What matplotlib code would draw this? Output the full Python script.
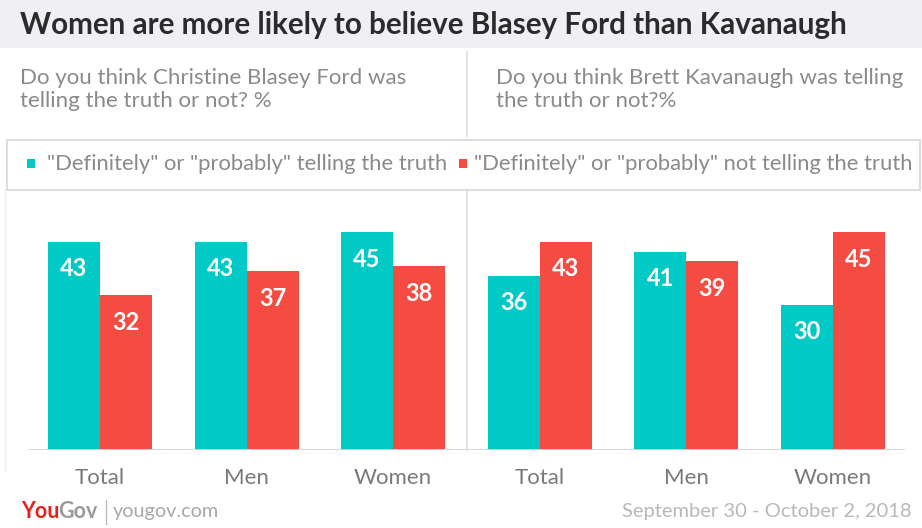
import matplotlib.pyplot as plt
from matplotlib.patches import Rectangle
from matplotlib.lines import Line2D

plt.rcParams['font.family'] = ['Lato', 'DejaVu Sans']

groups = ['Total', 'Men', 'Women', 'Total', 'Men', 'Women']
telling_truth = [43, 43, 45, 36, 41, 30]
not_truth = [32, 37, 38, 43, 39, 45]

title = 'Women are more likely to believe Blasey Ford than Kavanaugh'
question_left = ['Do you think Christine Blasey Ford was', 'telling the truth or not? %']
question_right = ['Do you think Brett Kavanaugh was telling', 'the truth or not?%']
legend_labels = ['"Definitely" or "probably" telling the truth',
                 '"Definitely" or "probably" not telling the truth']
date_text = 'September 30 - October 2, 2018'

teal = '#00C9C6'
red = '#F44B42'
W, H = 922, 528

fig = plt.figure(figsize=(W / 100, H / 100), dpi=100)


def px(x, y):
    # pixel position (from top-left) -> figure fraction
    return x / W, 1 - y / H


def vline(x, y0, y1, color='#dddddd', lw=1.2):
    fig.lines.append(Line2D([x / W] * 2, [1 - y0 / H, 1 - y1 / H],
                            transform=fig.transFigure, color=color, lw=lw))


# title band
fig.patches.append(Rectangle(px(0, 48), 1, 48 / H, transform=fig.transFigure,
                             facecolor='#EFEFF4', edgecolor='none', zorder=0))
fig.text(*px(20, 25), title, fontsize=21.3, fontweight='bold', color='#2b2b2b',
         va='center', ha='left')

# question headers
for i, line in enumerate(question_left):
    fig.text(*px(20, 78 + 23 * i), line, fontsize=16, color='#8a8a8a',
             va='center', ha='left')
for i, line in enumerate(question_right):
    fig.text(*px(496, 78 + 23 * i), line, fontsize=16, color='#8a8a8a',
             va='center', ha='left')

# dividers
vline(467, 52, 136)
vline(467, 190, 450)
vline(5, 190, 470, color='#eeeeee', lw=1)

# legend box
fig.patches.append(Rectangle(px(7, 190), 913 / W, 50 / H, transform=fig.transFigure,
                             facecolor='none', edgecolor='#dddddd', lw=1.5))
for sx, tx, col, lab in [(27, 47, teal, legend_labels[0]),
                         (459, 474, red, legend_labels[1])]:
    fig.patches.append(Rectangle(px(sx, 168), 8 / W, 9 / H, transform=fig.transFigure,
                                 facecolor=col, edgecolor='none'))
    fig.text(*px(tx, 164), lab, fontsize=15.8, color='#8a8a8a', va='center', ha='left')

# bars
ax = fig.add_axes([28 / W, 1 - 450 / H, 877 / W, 260 / H])
ax.set_xlim(-0.491, 5.491)
ax.set_ylim(0, 260 / 4.84)
x = list(range(len(groups)))
bw = 0.355
ax.bar([i - bw / 2 for i in x], telling_truth, width=bw, color=teal)
ax.bar([i + bw / 2 for i in x], not_truth, width=bw, color=red)
for i in x:
    ax.text(i - bw / 2, telling_truth[i] - 5.6, str(telling_truth[i]), color='white',
            fontsize=17, fontweight='bold', ha='center', va='center')
    ax.text(i + bw / 2, not_truth[i] - 5.6, str(not_truth[i]), color='white',
            fontsize=17, fontweight='bold', ha='center', va='center')
    ax.text(i, -5.7, groups[i], color='#7a7a7a', fontsize=16, ha='center', va='center')
ax.axhline(0, color='#d4d4d4', lw=2)
ax.axis('off')

# footer
fig.canvas.draw()
you = fig.text(*px(21, 512), 'You', fontsize=15.5, fontweight='bold', color='#e2231a',
               va='center', ha='left')
you_box = you.get_window_extent(fig.canvas.get_renderer())
fig.text((you_box.x1 - 1) / W, 1 - 512 / H, 'Gov', fontsize=15.5, fontweight='bold',
         color='#9a9a9a', va='center', ha='left')
vline(106, 500, 524, color='#bbbbbb', lw=1)
fig.text(*px(113, 512), 'yougov.com', fontsize=14.3, color='#a8a8a8',
         va='center', ha='left')
fig.text(*px(912, 512), date_text, fontsize=14.5, color='#b8b8b8',
         va='center', ha='right')

fig.savefig('out.png', dpi=100)
